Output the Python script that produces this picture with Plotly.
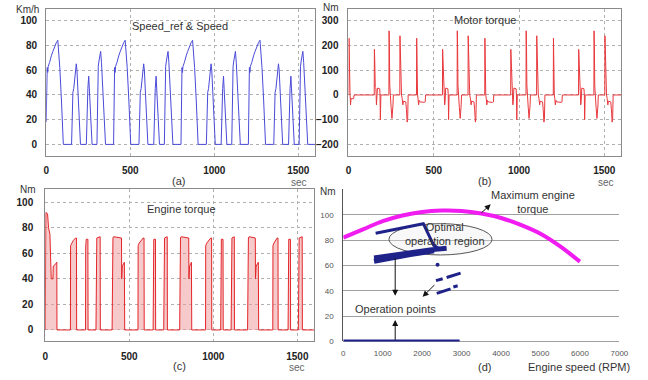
import plotly.graph_objects as go

# ---------------- data ----------------
# (a) vehicle speed [km/h] vs time [s]
speed_t = [0, 3, 6, 9, 12, 20, 26, 32, 40, 50, 60, 69, 72, 81, 91, 102,
           151, 155, 159, 164, 170, 179, 183, 192, 204,
           239, 244, 248, 253, 257, 265, 273,
           302, 306, 310, 315, 324, 329, 339, 353,
           401, 404, 407, 410, 413, 421, 427, 433, 441, 451, 461, 470, 473, 482, 492, 503,
           552, 556, 560, 565, 571, 580, 584, 593, 605,
           640, 645, 649, 654, 658, 666, 674,
           703, 707, 711, 716, 725, 730, 740, 754,
           802, 805, 808, 811, 814, 822, 828, 834, 842, 852, 862, 871, 874, 883, 893, 904,
           953, 957, 961, 966, 972, 981, 985, 994, 1006,
           1041, 1046, 1050, 1055, 1059, 1067, 1075,
           1104, 1108, 1112, 1117, 1126, 1131, 1141, 1155,
           1203, 1206, 1209, 1212, 1215, 1223, 1229, 1235, 1243, 1253, 1263, 1272, 1275, 1284, 1294, 1305,
           1354, 1358, 1362, 1367, 1373, 1382, 1386, 1395, 1407,
           1442, 1447, 1451, 1456, 1460, 1468, 1476,
           1505, 1509, 1513, 1518, 1527, 1532, 1542, 1556,
           1600]
speed_kmh = [18, 58, 62, 58, 63, 66, 70, 72, 75, 79, 82, 84, 80, 62, 35, 0,
             0, 38, 42, 45, 52, 65, 60, 30, 0,
             0, 40, 45, 55, 45, 20, 0,
             0, 58, 63, 68, 75, 66, 38, 0,
             0, 58, 62, 58, 63, 66, 70, 72, 75, 79, 82, 84, 80, 62, 35, 0,
             0, 38, 42, 45, 52, 65, 60, 30, 0,
             0, 40, 45, 55, 45, 20, 0,
             0, 58, 63, 68, 75, 66, 38, 0,
             0, 58, 62, 58, 63, 66, 70, 72, 75, 79, 82, 84, 80, 62, 35, 0,
             0, 38, 42, 45, 52, 65, 60, 30, 0,
             0, 40, 45, 55, 45, 20, 0,
             0, 58, 63, 68, 75, 66, 38, 0,
             0, 58, 62, 58, 63, 66, 70, 72, 75, 79, 82, 84, 80, 62, 35, 0,
             0, 38, 42, 45, 52, 65, 60, 30, 0,
             0, 40, 45, 55, 45, 20, 0,
             0, 58, 63, 68, 75, 66, 38, 0,
             0]

# (b) motor torque [Nm] vs time [s]
motor_t = [0, 2, 3, 4, 6, 9, 12, 15, 30, 33,
           151, 152, 154, 157, 161, 164, 167, 170, 183, 185, 187, 189, 190,
           237, 238, 240, 242, 244, 247, 250, 255, 258, 261, 263,
           301, 302, 304, 307, 311, 315, 319, 322, 336, 340, 344, 347, 350,
           399, 400, 401, 403, 405, 408, 411, 415, 420, 445, 450, 452,
           551, 552, 554, 557, 561, 564, 567, 570, 583, 585, 587, 589, 590,
           637, 638, 640, 642, 644, 647, 650, 655, 658, 661, 663,
           701, 702, 704, 707, 711, 715, 719, 722, 736, 740, 744, 747, 750,
           799, 800, 801, 803, 805, 808, 811, 815, 820, 845, 850, 852,
           951, 952, 954, 957, 961, 964, 967, 970, 983, 985, 987, 989, 990,
           1041, 1042, 1044, 1046, 1048, 1051, 1054, 1059, 1062, 1065, 1067,
           1103, 1104, 1106, 1109, 1113, 1117, 1121, 1124, 1138, 1142, 1146, 1149, 1152,
           1201, 1202, 1203, 1205, 1207, 1210, 1213, 1217, 1222, 1247, 1252, 1254,
           1349, 1350, 1352, 1355, 1359, 1362, 1365, 1368, 1381, 1383, 1385, 1387, 1388,
           1439, 1440, 1442, 1444, 1446, 1449, 1452, 1457, 1460, 1463, 1465,
           1503, 1504, 1506, 1509, 1513, 1517, 1521, 1524, 1538, 1542, 1546, 1549, 1552,
           1600]
motor_nm = [0, 0, 230, 150, 20, 10, -40, -15, -15, 0,
            0, 185, 140, 30, 25, -40, -20, 28, 25, 0, -100, -60, 0,
            0, 260, 190, 40, 0, -20, -50, -95, -75, -40, 0,
            0, 240, 180, 40, 0, -15, -40, -25, -28, -60, -110, -100, 0,
            0, 230, 160, 60, 0, -15, -40, -22, -28, -30, -28, 0,
            0, 185, 140, 30, 25, -40, -20, 28, 25, 0, -100, -60, 0,
            0, 260, 190, 40, 0, -20, -50, -95, -75, -40, 0,
            0, 240, 180, 40, 0, -15, -40, -25, -28, -60, -110, -100, 0,
            0, 230, 160, 60, 0, -15, -40, -22, -28, -30, -28, 0,
            0, 185, 140, 30, 25, -40, -20, 28, 25, 0, -100, -60, 0,
            0, 260, 190, 40, 0, -20, -50, -95, -75, -40, 0,
            0, 240, 180, 40, 0, -15, -40, -25, -28, -60, -110, -100, 0,
            0, 230, 160, 60, 0, -15, -40, -22, -28, -30, -28, 0,
            0, 185, 140, 30, 25, -40, -20, 28, 25, 0, -100, -60, 0,
            0, 260, 190, 40, 0, -20, -50, -95, -75, -40, 0,
            0, 240, 180, 40, 0, -15, -40, -25, -28, -60, -110, -100, 0,
            0]

# (c) engine torque [Nm] vs time [s]
engine_t = [0, 1, 4, 14, 20, 28, 31, 36, 46, 48, 58, 69, 70,
            150, 151, 157, 167, 181, 186, 187,
            240, 241, 244, 254, 255,
            302, 303, 307, 327, 328,
            398, 399, 403, 407, 451, 454, 455, 459, 471, 473,
            552, 553, 559, 569, 583, 588, 589,
            642, 643, 646, 656, 657,
            705, 706, 710, 726, 727,
            800, 801, 805, 809, 851, 854, 855, 859, 870, 872,
            954, 955, 961, 971, 985, 990, 991,
            1044, 1045, 1048, 1058, 1059,
            1106, 1107, 1111, 1125, 1126,
            1204, 1205, 1209, 1213, 1247, 1250, 1251, 1255, 1268, 1270,
            1354, 1355, 1361, 1369, 1380, 1385, 1386,
            1445, 1446, 1449, 1459, 1460,
            1506, 1507, 1511, 1529, 1530,
            1600]
engine_nm = [0, 90, 92, 91, 80, 75, 48, 40, 40, 50, 51, 53, 0,
             0, 66, 68, 70, 72, 72, 0,
             0, 65, 71, 71, 0,
             0, 67, 72, 73, 0,
             0, 68, 72, 73, 72, 72, 40, 50, 53, 0,
             0, 66, 68, 70, 72, 72, 0,
             0, 65, 71, 71, 0,
             0, 67, 72, 73, 0,
             0, 68, 72, 73, 72, 72, 40, 50, 53, 0,
             0, 66, 68, 70, 72, 72, 0,
             0, 65, 71, 71, 0,
             0, 67, 72, 73, 0,
             0, 68, 72, 73, 72, 72, 40, 50, 53, 0,
             0, 66, 68, 70, 72, 72, 0,
             0, 65, 71, 71, 0,
             0, 67, 72, 73, 0,
             0]

# (d) engine map
max_rpm = [0, 500, 1000, 1500, 2000, 2500, 3000, 3500, 4000, 4500, 5000, 5500, 6000]
max_nm = [82, 88.5, 95, 99.5, 102.3, 103.3, 103, 101, 97.5, 92, 85, 75, 63]

zero_rpm = [0, 2950]
zero_nm = [0, 0]
band_lo_rpm = [780, 1200, 1700, 2300]
band_lo_nm = [63.3, 66, 68.6, 71.5]
band_hi_rpm = [780, 1200, 1700, 2200, 2620]
band_hi_nm = [66, 68, 70.5, 72.3, 73.5]
upper_rpm = [820, 2030, 2290, 2450]
upper_nm = [85.5, 93, 76, 73]
dot_rpm = [2390]
dot_nm = [60.5]
dash_rpm = [2350, 2520, None, 2620, 2975, None, 2370, 2720, None, 2790, 2900]
dash_nm = [48, 49.5, None, 50.5, 54, None, 38, 41.5, None, 43, 44]

# ---------------- figure ----------------
W, H = 648, 380
def px(x): return x / W
def py(y): return 1 - y / H

fig = go.Figure()

fig.add_trace(go.Scatter(x=speed_t, y=speed_kmh, mode="lines",
                         line=dict(color="#4a4ad8", width=1), xaxis="x", yaxis="y"))
fig.add_trace(go.Scatter(x=motor_t, y=motor_nm, mode="lines",
                         line=dict(color="#e8383c", width=1), xaxis="x2", yaxis="y2"))
fig.add_trace(go.Scatter(x=engine_t, y=engine_nm, mode="lines", fill="tozeroy",
                         fillcolor="rgba(238,150,150,0.5)",
                         line=dict(color="#e3262b", width=1), xaxis="x3", yaxis="y3"))

navy = "#1f2288"
fig.add_trace(go.Scatter(x=max_rpm, y=max_nm, mode="lines", line=dict(color="#f01cf0", width=4, shape="spline"),
                         xaxis="x4", yaxis="y4"))
fig.add_trace(go.Scatter(x=zero_rpm, y=zero_nm, mode="lines", line=dict(color=navy, width=4),
                         xaxis="x4", yaxis="y4", cliponaxis=False))
fig.add_trace(go.Scatter(x=band_lo_rpm, y=band_lo_nm, mode="lines", line=dict(color=navy, width=5),
                         xaxis="x4", yaxis="y4"))
fig.add_trace(go.Scatter(x=band_hi_rpm, y=band_hi_nm, mode="lines", line=dict(color=navy, width=5),
                         xaxis="x4", yaxis="y4"))
fig.add_trace(go.Scatter(x=upper_rpm, y=upper_nm, mode="lines", line=dict(color=navy, width=3),
                         xaxis="x4", yaxis="y4"))
fig.add_trace(go.Scatter(x=dot_rpm, y=dot_nm, mode="markers", marker=dict(color=navy, size=4),
                         xaxis="x4", yaxis="y4"))
fig.add_trace(go.Scatter(x=dash_rpm, y=dash_nm, mode="lines", line=dict(color=navy, width=3),
                         xaxis="x4", yaxis="y4"))

tickf = dict(family="Liberation Sans, Arial", size=10, color="#222", weight="bold")
boxax = dict(showline=True, mirror=True, linecolor="#8a8a8a", linewidth=1,
             showgrid=True, gridcolor="#b0b0b0", griddash="dot", gridwidth=1,
             zeroline=False, ticks="", tickfont=tickf)

fig.update_layout(
    width=W, height=H, margin=dict(l=0, r=0, t=0, b=0),
    paper_bgcolor="white", plot_bgcolor="white", showlegend=False,
    font=dict(family="Liberation Sans, Arial", color="#333"),
    xaxis=dict(domain=[px(44), px(318)], range=[0, 1600], tickvals=[0, 500, 1000, 1500],
               ticklabelstandoff=5, anchor="y", **boxax),
    yaxis=dict(domain=[py(158), py(9)], range=[-9.3, 109.3], tickvals=[0, 20, 40, 60, 80, 100],
               ticklabelstandoff=6, anchor="x", **boxax),
    xaxis2=dict(domain=[px(352), px(630)], range=[0, 1600], tickvals=[0, 500, 1000, 1500],
                ticklabelstandoff=5, anchor="y2", **boxax),
    yaxis2=dict(domain=[py(158), py(9)], range=[-247, 349], tickvals=[-200, -100, 0, 100, 200, 300],
                ticklabelstandoff=7, anchor="x2", **boxax),
    xaxis3=dict(domain=[px(43), px(317)], range=[0, 1600], tickvals=[0, 500, 1000, 1500],
                ticklabelstandoff=6, anchor="y3", **boxax),
    yaxis3=dict(domain=[py(346), py(192)], range=[-9, 110], tickvals=[0, 20, 40, 60, 80, 100],
                ticklabelstandoff=9, anchor="x3", **boxax),
    xaxis4=dict(domain=[px(346.7), px(628)], range=[0, 7000], tickvals=list(range(0, 7001, 1000)),
                showgrid=False, zeroline=False, showline=False, ticks="", anchor="y4",
                ticklabelstandoff=6,
                tickfont=dict(family="Liberation Sans, Arial", size=8, color="#555")),
    yaxis4=dict(domain=[py(346), py(192)], range=[0, 120], tickvals=[0, 20, 40, 60, 80, 100],
                showgrid=True, gridcolor="#a0a0a0", gridwidth=1, zeroline=True,
                zerolinecolor="#a0a0a0", zerolinewidth=1, showline=True, linecolor="#555",
                linewidth=1, ticks="", anchor="x4", ticklabelstandoff=7,
                tickfont=dict(family="Liberation Sans, Arial", size=8, color="#555")),
)

fig.add_shape(type="circle", xref="x4", yref="y4", x0=1157, x1=3772, y0=68.3, y1=93,
              line=dict(color="#555", width=1), fillcolor="rgba(235,235,235,0.35)", layer="between")

def ann(text, x, y, size=11, color="#333", **kw):
    fig.add_annotation(text=text, x=px(x), y=py(y), xref="paper", yref="paper",
                       xanchor="center", yanchor="middle",
                       showarrow=False, font=dict(size=size, color=color), **kw)

ann("Km/h", 25, 10, size=10)
ann("Speed_ref &amp; Speed", 180, 26)
ann("(a)", 179, 183)
ann("sec", 302, 185, size=10, color="#666")
ann("Nm", 334, 8, size=10)
ann("Motor torque", 491, 20)
ann("(b)", 491, 183)
ann("sec", 614, 185, size=10, color="#666")
ann("Nm", 25, 192, size=10)
ann("Engine torque", 182, 212)
ann("(c)", 180, 371)
ann("sec", 300, 372, size=10, color="#666")
ann("Nm", 331, 194, size=10)
ann("Maximum engine<br>torque", 540, 205, size=11)
ann("Optimal<br>operation region", 450, 237, size=11)
ann("Operation points", 400, 313, size=11)
ann("(d)", 491, 372)
ann("Engine speed (RPM)", 587, 372)

def arrow(x, y, ax, ay):
    fig.add_annotation(x=x, y=y, ax=ax, ay=ay, xref="x4", yref="y4", axref="x4", ayref="y4",
                       text="", showarrow=True, arrowhead=2, arrowsize=1.2, arrowwidth=1,
                       arrowcolor="#111")

arrow(3739, 108.3, 3465, 100.5)
arrow(1316, 36, 1316, 67)
arrow(1316, 17, 1316, 0)
arrow(2012, 35.3, 2347, 45.7)

fig.write_html("out.html", config={"displayModeBar": False},
               post_script="document.body.style.margin='0';document.body.style.overflow='hidden';")
